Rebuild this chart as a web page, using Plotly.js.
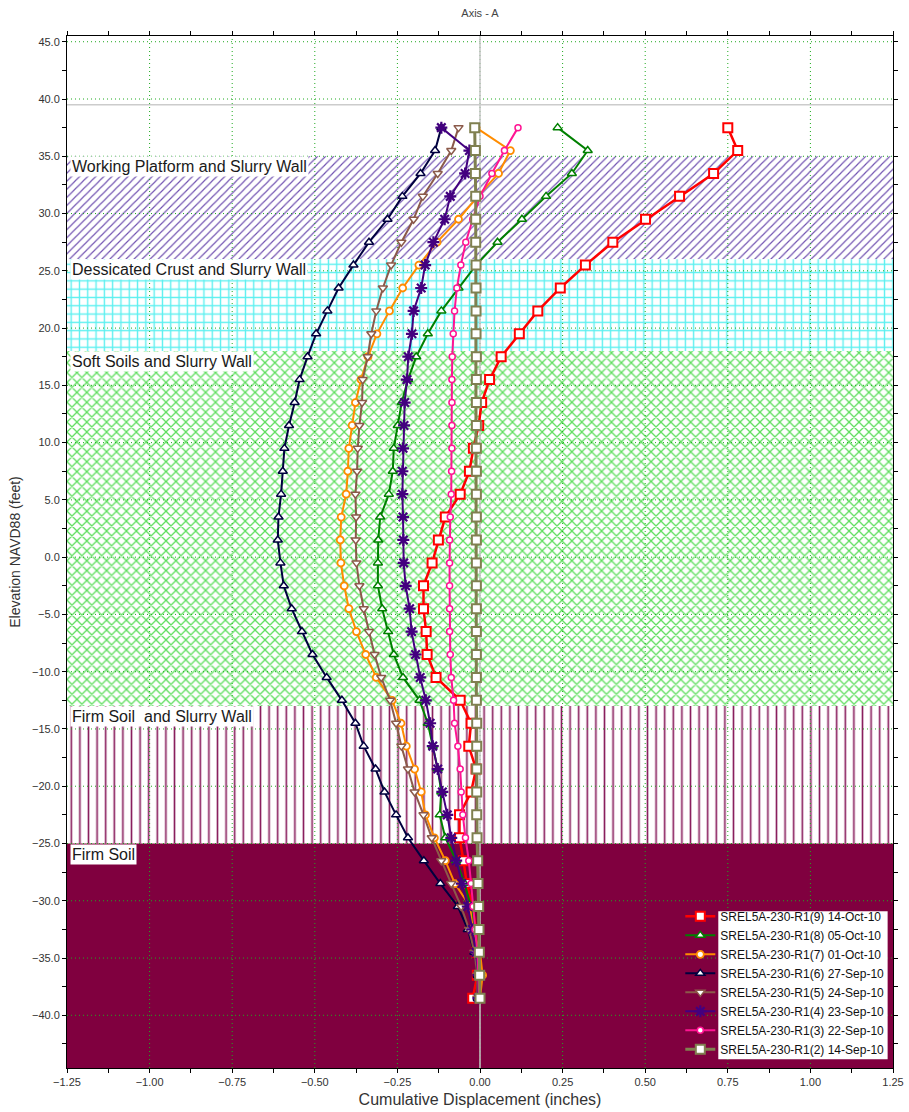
<!DOCTYPE html>
<html>
<head>
<meta charset="utf-8">
<script src="https://cdn.plot.ly/plotly-3.0.1.min.js"></script>
<style>
  html, body { margin: 0; padding: 0; background: #ffffff; }
  #chart { width: 909px; height: 1112px; }
</style>
</head>
<body>
<div id="chart"></div>
<script>
// Inclinometer SREL5A-230-R1, Axis A: cumulative displacement vs. elevation

// Elevation of each reading (ft, NAVD88)
const elevation = [37.5, 35.5, 33.5, 31.5, 29.5, 27.5, 25.5, 23.5, 21.5, 19.5,
  17.5, 15.5, 13.5, 11.5, 9.5, 7.5, 5.5, 3.5, 1.5, -0.5,
  -2.5, -4.5, -6.5, -8.5, -10.5, -12.5, -14.5, -16.5, -18.5, -20.5,
  -22.5, -24.5, -26.5, -28.5, -30.5, -32.5, -34.5, -36.5, -38.5];

// Cumulative displacement (inches) per survey
const r1_9_14Oct = [0.750, 0.780, 0.707, 0.604, 0.501, 0.402, 0.319, 0.243, 0.175, 0.119,
  0.064, 0.029, 0.005, -0.004, -0.020, -0.032, -0.060, -0.105, -0.126, -0.145,
  -0.171, -0.171, -0.163, -0.160, -0.133, -0.060, -0.027, -0.034, -0.012, -0.027,
  -0.062, -0.062, -0.050, -0.040, -0.023, -0.012, -0.009, -0.008, -0.022];
const r1_8_05Oct = [0.235, 0.326, 0.278, 0.200, 0.127, 0.053, -0.012, -0.065, -0.117, -0.158,
  -0.193, -0.218, -0.237, -0.249, -0.261, -0.264, -0.276, -0.302, -0.308, -0.309,
  -0.309, -0.296, -0.278, -0.261, -0.233, -0.183, -0.158, -0.143, -0.128, -0.117,
  -0.122, -0.105, -0.072, -0.047, -0.027, -0.016, -0.010, -0.005, -0.005];
const r1_7_01Oct = [-0.012, 0.092, 0.056, -0.007, -0.065, -0.130, -0.185, -0.234, -0.274, -0.312,
  -0.339, -0.360, -0.377, -0.387, -0.397, -0.400, -0.405, -0.420, -0.423, -0.421,
  -0.411, -0.397, -0.374, -0.346, -0.314, -0.266, -0.239, -0.223, -0.198, -0.178,
  -0.165, -0.138, -0.105, -0.076, -0.030, -0.022, 0.000, 0.008, 0.000];
const r1_6_27Sep = [-0.117, -0.136, -0.180, -0.235, -0.280, -0.336, -0.383, -0.428, -0.462, -0.496,
  -0.522, -0.546, -0.561, -0.578, -0.592, -0.597, -0.602, -0.610, -0.612, -0.604,
  -0.594, -0.570, -0.539, -0.507, -0.464, -0.418, -0.377, -0.352, -0.316, -0.289,
  -0.254, -0.218, -0.170, -0.120, -0.067, -0.037, -0.017, -0.007, -0.007];
const r1_5_24Sep = [-0.065, -0.087, -0.128, -0.173, -0.201, -0.238, -0.269, -0.294, -0.314, -0.329,
  -0.340, -0.355, -0.357, -0.365, -0.370, -0.372, -0.377, -0.375, -0.376, -0.374,
  -0.365, -0.352, -0.336, -0.319, -0.299, -0.272, -0.254, -0.238, -0.218, -0.198,
  -0.171, -0.146, -0.117, -0.087, -0.057, -0.033, -0.017, -0.008, -0.008];
const r1_4_23Sep = [-0.117, -0.032, -0.045, -0.090, -0.107, -0.141, -0.166, -0.178, -0.201, -0.206,
  -0.217, -0.221, -0.228, -0.230, -0.233, -0.235, -0.235, -0.233, -0.232, -0.231,
  -0.225, -0.213, -0.207, -0.195, -0.181, -0.164, -0.151, -0.143, -0.128, -0.114,
  -0.099, -0.087, -0.072, -0.055, -0.037, -0.023, -0.012, -0.005, -0.005];
const r1_3_22Sep = [0.115, 0.074, 0.036, 0.000, -0.022, -0.043, -0.058, -0.070, -0.077, -0.081,
  -0.084, -0.085, -0.085, -0.085, -0.085, -0.086, -0.087, -0.090, -0.092, -0.092,
  -0.092, -0.092, -0.092, -0.090, -0.087, -0.080, -0.077, -0.067, -0.060, -0.057,
  -0.052, -0.044, -0.034, -0.027, -0.021, -0.015, -0.008, -0.005, -0.003];
const r1_2_14Sep = [-0.016, -0.014, -0.014, -0.013, -0.013, -0.013, -0.012, -0.012, -0.012, -0.012,
  -0.011, -0.011, -0.011, -0.011, -0.011, -0.011, -0.011, -0.011, -0.011, -0.011,
  -0.011, -0.011, -0.011, -0.011, -0.011, -0.011, -0.010, -0.010, -0.010, -0.010,
  -0.010, -0.009, -0.007, -0.006, -0.004, -0.003, -0.002, -0.001, 0.000];

const seriesNames = [
  'SREL5A-230-R1(9) 14-Oct-10', 'SREL5A-230-R1(8) 05-Oct-10', 'SREL5A-230-R1(7) 01-Oct-10',
  'SREL5A-230-R1(6) 27-Sep-10', 'SREL5A-230-R1(5) 24-Sep-10', 'SREL5A-230-R1(4) 23-Sep-10',
  'SREL5A-230-R1(3) 22-Sep-10', 'SREL5A-230-R1(2) 14-Sep-10'];
const seriesValues = [r1_9_14Oct, r1_8_05Oct, r1_7_01Oct, r1_6_27Sep, r1_5_24Sep, r1_4_23Sep, r1_3_22Sep, r1_2_14Sep];

// Soil layers (top / bottom elevation, ft)
const layerNames = ['Working Platform and Slurry Wall', 'Dessicated Crust and Slurry Wall',
  'Soft Soils and Slurry Wall', 'Firm Soil \u00a0and Slurry Wall', 'Firm Soil'];
const layerTop = [35, 26, 18, -13, -25];
const layerBottom = [26, 18, -13, -25, -44.6];

// Axis ticks
const xTickVals = [-1.25, -1.0, -0.75, -0.5, -0.25, 0, 0.25, 0.5, 0.75, 1.0, 1.25];
const yTickVals = [-40, -35, -30, -25, -20, -15, -10, -5, 0, 5, 10, 15, 20, 25, 30, 35, 40, 45];
const topOfCasing = 39.5;

const X_RANGE = [-1.25, 1.25];
const Y_RANGE = [-44.6, 45.5];

const FONT = 'Liberation Sans, Arial, Helvetica, sans-serif';

// --- layer fills ---
const layerStyle = [
  {shape: '/', fgcolor: '#6f50b0', bgcolor: '#ffffff', size: 5.7, solidity: 0.2},
  {shape: '+', fgcolor: '#5cf0f0', bgcolor: '#ffffff', size: 8.3, solidity: 0.3},
  {shape: 'x', fgcolor: '#5ede5e', bgcolor: '#ffffff', size: 7, solidity: 0.33},
  {shape: '|', fgcolor: '#8a1f5e', bgcolor: '#ffffff', size: 8.6, solidity: 0.19},
  null
];

const traces = [];
layerNames.forEach((name, i) => {
  const t = {
    type: 'scatter', mode: 'none', name: name, showlegend: false, hoverinfo: 'skip',
    x: [X_RANGE[0], X_RANGE[1], X_RANGE[1], X_RANGE[0], X_RANGE[0]],
    y: [layerBottom[i], layerBottom[i], layerTop[i], layerTop[i], layerBottom[i]],
    fill: 'toself'
  };
  if (layerStyle[i]) {
    t.fillcolor = '#ffffff';
    t.fillpattern = layerStyle[i];
  } else {
    t.fillcolor = '#80003f';
  }
  traces.push(t);
});

// --- dotted grid, drawn over the layer fills ---
const gx = [], gy = [];
xTickVals.forEach(v => { if (v > X_RANGE[0] && v < X_RANGE[1]) { gx.push(v, v, null); gy.push(Y_RANGE[0], Y_RANGE[1], null); } });
const hx = [], hy = [];
yTickVals.forEach(v => { hx.push(X_RANGE[0], X_RANGE[1], null); hy.push(v, v, null); });
const gridLine = {color: '#1faa1f', width: 1, dash: '1px,3px'};
traces.push({type: 'scatter', mode: 'lines', x: gx, y: gy, line: gridLine, showlegend: false, hoverinfo: 'skip', connectgaps: false});
traces.push({type: 'scatter', mode: 'lines', x: hx, y: hy, line: gridLine, showlegend: false, hoverinfo: 'skip', connectgaps: false});

// zero displacement line and top of casing
traces.push({type: 'scatter', mode: 'lines', x: [0, 0], y: Y_RANGE, line: {color: '#c4c4c4', width: 1.5}, showlegend: false, hoverinfo: 'skip'});
traces.push({type: 'scatter', mode: 'lines', x: X_RANGE, y: [topOfCasing, topOfCasing], line: {color: '#cccccc', width: 1.5}, showlegend: false, hoverinfo: 'skip'});

// --- survey profiles ---
const seriesStyle = [
  {color: '#ff0000', symbol: 'square', size: 9, lw: 2.5, mlw: 2},
  {color: '#008000', symbol: 'triangle-up', size: 8, lw: 2, mlw: 1.5},
  {color: '#ff8c00', symbol: 'circle', size: 7, lw: 2, mlw: 1.8},
  {color: '#00003f', symbol: 'triangle-up', size: 8, lw: 2, mlw: 1.5},
  {color: '#8b5a4a', symbol: 'triangle-down', size: 8, lw: 2, mlw: 1.5},
  {color: '#43007f', symbol: 'asterisk-open', size: 10, lw: 2, mlw: 2.2},
  {color: '#ff1493', symbol: 'circle', size: 6, lw: 2, mlw: 1.5},
  {color: '#808050', symbol: 'square', size: 9, lw: 3, mlw: 2}
];

seriesValues.forEach((vals, i) => {
  const s = seriesStyle[i];
  const star = s.symbol === 'asterisk-open';
  traces.push({
    type: 'scatter', mode: 'lines+markers', name: seriesNames[i],
    x: vals, y: elevation,
    line: {color: s.color, width: s.lw},
    marker: {symbol: s.symbol, size: s.size, color: star ? s.color : '#ffffff',
             line: {color: s.color, width: s.mlw}},
    hovertemplate: '%{x:.3f} in @ %{y:.1f} ft<extra>' + seriesNames[i] + '</extra>'
  });
});

const annotations = layerNames.map((name, i) => ({
  x: X_RANGE[0], xref: 'x', xanchor: 'left', xshift: 3,
  y: layerTop[i], yref: 'y', yanchor: 'top', yshift: 0,
  text: name, showarrow: false, bgcolor: '#ffffff', borderpad: 1,
  font: {family: FONT, size: 16, color: '#1a1a1a'}
}));

const axisCommon = {
  showline: true, linecolor: '#000000', linewidth: 1, mirror: 'ticks',
  ticks: 'outside', ticklen: 4, tickcolor: '#000000', tickwidth: 1,
  showgrid: false, zeroline: false,
  tickfont: {family: FONT, size: 11, color: '#333333'}
};

const layout = {
  width: 909, height: 1112,
  margin: {l: 67, r: 16, t: 36, b: 44, autoexpand: false},
  paper_bgcolor: '#ffffff', plot_bgcolor: '#ffffff',
  font: {family: FONT},
  title: {text: 'Axis - A', font: {family: FONT, size: 11, color: '#444444'},
          x: 0.528, xanchor: 'center', y: 0.988, yanchor: 'middle'},
  xaxis: Object.assign({}, axisCommon, {
    range: X_RANGE, tickmode: 'array', tickvals: xTickVals, tickformat: '.2f',
    minor: {ticks: 'outside', dtick: 0.125, tick0: 0, ticklen: 4, tickcolor: '#000000', showgrid: false},
    title: {text: 'Cumulative Displacement (inches)', font: {family: FONT, size: 16, color: '#333333'}, standoff: 6}
  }),
  yaxis: Object.assign({}, axisCommon, {
    range: Y_RANGE, tickmode: 'array', tickvals: yTickVals, tickformat: '.1f',
    minor: {ticks: 'outside', dtick: 2.5, tick0: 0, ticklen: 4, tickcolor: '#000000', showgrid: false},
    title: {text: 'Elevation NAVD88 (feet)', font: {family: FONT, size: 14, color: '#333333'}, standoff: 8}
  }),
  showlegend: true,
  legend: {
    x: 0.7425, xanchor: 'left', y: 0.004, yanchor: 'bottom',
    bgcolor: 'rgba(0,0,0,0)', borderwidth: 0, itemwidth: 30,
    font: {family: FONT, size: 12, color: '#111111'}, tracegroupgap: 0
  },
  shapes: [{
    type: 'rect', xref: 'paper', yref: 'paper', layer: 'above',
    x0: 0.7885, x1: 0.9935, y0: 0.0085, y1: 0.152,
    fillcolor: '#ffffff', line: {width: 0}
  }],
  annotations: annotations
};

Plotly.newPlot('chart', traces, layout, {displayModeBar: false, responsive: false});
</script>
</body>
</html>
